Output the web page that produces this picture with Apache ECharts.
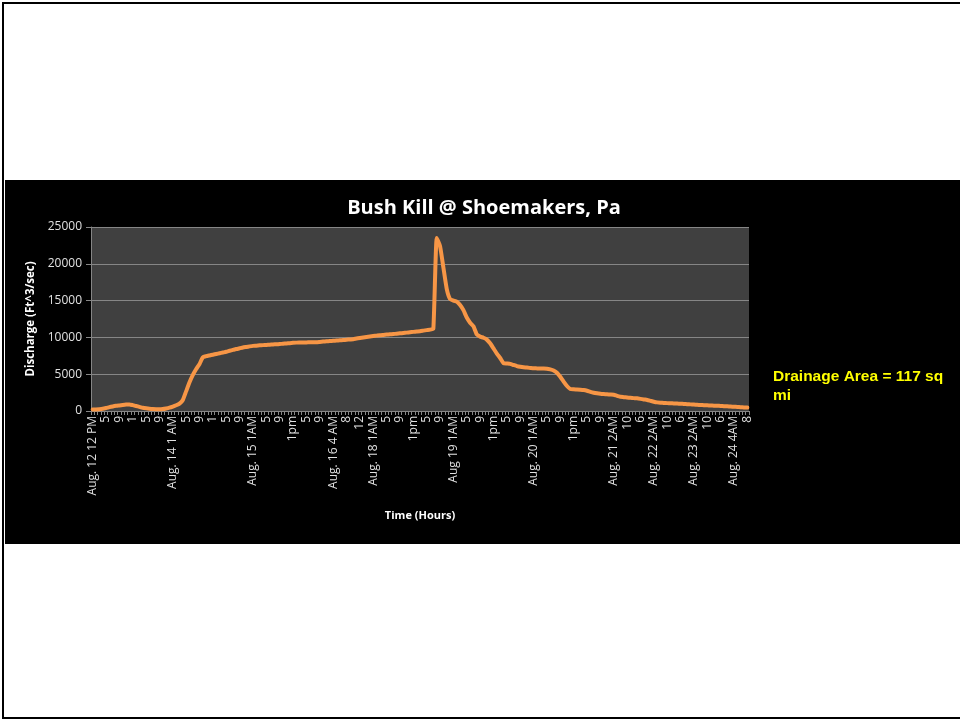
<!DOCTYPE html>
<html><head><meta charset="utf-8">
<script src="https://cdn.jsdelivr.net/npm/echarts@6/dist/echarts.min.js"></script>
<style>html,body{margin:0;padding:0;background:#fff}#c{width:960px;height:721px}</style>
</head><body><div id="c"></div>
<script>
const chartTitle = 'Bush Kill @ Shoemakers, Pa';
const yAxisName = 'Discharge (Ft^3/sec)';
const xAxisName = 'Time (Hours)';
const noteText = 'Drainage Area = 117 sq\nmi';
const tickLabels = ['Aug. 12 12 PM','5','9','1','5','9','Aug. 14 1 AM','5','9','1','5','9',
  'Aug. 15 1AM','5','9','1pm','5','9','Aug. 16 4 AM','8','12','Aug. 18 1AM','5','9','1pm','5','9',
  'Aug 19 1AM','5','9','1pm','5','9','Aug. 20 1AM','5','9','1pm','5','9',
  'Aug. 21 2AM','10','6','Aug. 22 2AM','10','6','Aug. 23 2AM','10','6','Aug. 24 4AM','8'];
const discharge = [
  200,220,250,300,400,520,620,700,760,820,870,900,800,680,560,440,360,300,260,240,
  230,260,340,450,600,780,1000,1500,2700,3900,4900,5700,6400,7300,7450,7550,7650,7750,7850,7950,
  8050,8180,8300,8420,8520,8620,8700,8780,8850,8880,8920,8950,8980,9010,9040,9070,9100,9140,9180,9220,
  9260,9290,9300,9310,9320,9330,9340,9350,9390,9430,9470,9500,9530,9570,9600,9640,9680,9720,9750,9850,
  9930,10000,10060,10120,10180,10240,10300,10340,10380,10420,10460,10500,10550,10600,10650,10700,10750,10800,10850,10920,
  10990,11050,11200,23500,22400,19500,16600,15200,15000,14850,14400,13700,12700,12000,11500,10400,10100,9950,9700,9200,
  8500,7800,7200,6500,6450,6400,6250,6100,6000,5930,5900,5850,5800,5790,5780,5770,5750,5650,5500,5200,
  4660,4000,3400,3000,2950,2930,2900,2850,2750,2600,2480,2400,2340,2300,2270,2240,2210,2050,1930,1880,
  1830,1790,1750,1720,1650,1570,1500,1380,1260,1170,1130,1100,1070,1050,1030,1010,990,960,930,900,
  870,840,815,790,770,750,730,710,690,660,630,600,580,550,520,490,460
];
const categories = discharge.map((v, i) => String(i));

const chart = echarts.init(document.getElementById('c'), null, {renderer: 'canvas'});
const font = 'Open Sans, Noto Sans, sans-serif';
chart.setOption({
  backgroundColor: '#ffffff',
  animation: false,
  graphic: [
    {type: 'rect', z: -10, shape: {x: 3, y: 3, width: 962, height: 715}, style: {fill: '#ffffff', stroke: '#000', lineWidth: 2}},
    {type: 'rect', z: -9, shape: {x: 5, y: 180, width: 960, height: 364}, style: {fill: '#000000'}},
    {type: 'text', left: 773, top: 367, style: {text: noteText, fill: '#ffff00', font: 'bold 15.5px Liberation Sans, Arial, sans-serif', lineHeight: 19}}
  ],
  title: {
    text: chartTitle, left: 479, top: 193, textAlign: 'center',
    textStyle: {color: '#ffffff', fontSize: 20, fontWeight: 'bold', fontFamily: font}
  },
  grid: {left: 91, top: 227, width: 658, height: 184, show: true, backgroundColor: '#404040', borderWidth: 0},
  xAxis: {
    type: 'category', data: categories, boundaryGap: true,
    name: xAxisName, nameLocation: 'middle', nameGap: 99,
    nameTextStyle: {color: '#ffffff', fontSize: 11, fontWeight: 'bold', fontFamily: font},
    axisLine: {lineStyle: {color: '#868686', width: 1}},
    axisTick: {show: true, interval: 0, length: 4, lineStyle: {color: '#868686'}},
    axisLabel: {
      interval: 3, rotate: 90, margin: 5, color: '#e0e0e0', fontSize: 12, fontFamily: font,
      formatter: (v, i) => (i % 4 === 0 ? tickLabels[i / 4] : '')
    },
    splitLine: {show: false}
  },
  yAxis: {
    type: 'value', min: 0, max: 25000, interval: 5000,
    name: yAxisName, nameLocation: 'middle', nameGap: 54, nameRotate: 90,
    nameTextStyle: {color: '#ffffff', fontSize: 11.5, fontWeight: 'bold', fontFamily: font},
    axisLine: {show: true, lineStyle: {color: '#868686', width: 1}},
    axisTick: {show: true, length: 5, lineStyle: {color: '#868686'}},
    axisLabel: {color: '#e0e0e0', fontSize: 12, margin: 9, fontFamily: font, formatter: v => String(v)},
    splitLine: {show: true, lineStyle: {color: '#868686', width: 1}}
  },
  series: [{
    type: 'line', data: discharge, showSymbol: false, symbol: 'none',
    lineStyle: {color: '#f79646', width: 4, join: 'round', cap: 'round'},
    smooth: 0.15
  }]
});
</script>
</body></html>
